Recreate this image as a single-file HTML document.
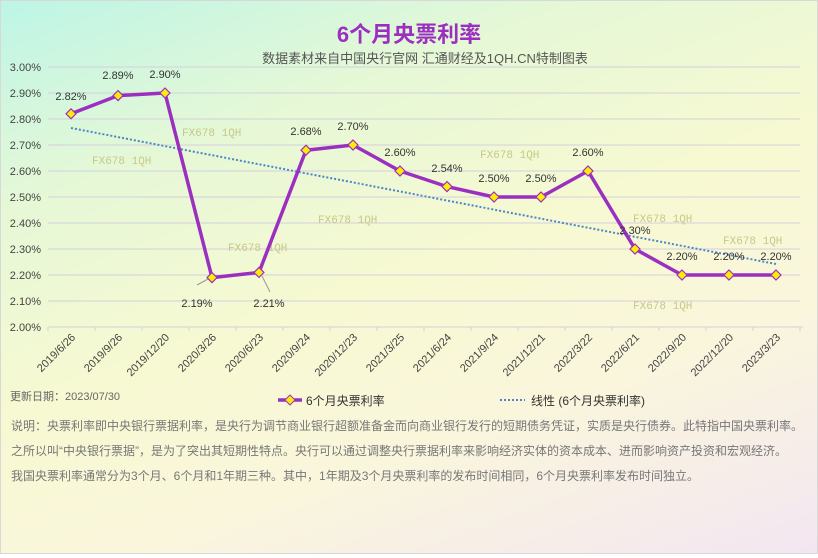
<!DOCTYPE html>
<html><head><meta charset="utf-8"><style>
html,body{margin:0;padding:0;}
body{width:818px;height:558px;overflow:hidden;font-family:"Liberation Sans","Noto Sans CJK SC",sans-serif;}
#bg{position:absolute;left:0;top:0;width:816px;height:552px;border:1px solid #d8d8d8;
background:linear-gradient(160deg,#bdf5e6 0%,#e6f8d6 25%,#f7f9d2 50%,#faf6dc 70%,#f3e6f2 100%);}
</style></head><body>
<div id="bg"></div>
<svg width="818" height="558" style="position:absolute;left:0;top:0" font-family="Liberation Sans, Noto Sans CJK SC, sans-serif">
<text x="409" y="42" text-anchor="middle" font-size="22" font-weight="bold" fill="#9b30c0">6个月央票利率</text>
<text x="425" y="63" text-anchor="middle" font-size="13" fill="#555">数据素材来自中国央行官网 汇通财经及1QH.CN特制图表</text>
<g stroke="#d4d0dc" stroke-width="1">
<line x1="48" x2="800" y1="67" y2="67"/><line x1="48" x2="800" y1="93" y2="93"/><line x1="48" x2="800" y1="119" y2="119"/><line x1="48" x2="800" y1="145" y2="145"/><line x1="48" x2="800" y1="171" y2="171"/><line x1="48" x2="800" y1="197" y2="197"/><line x1="48" x2="800" y1="223" y2="223"/><line x1="48" x2="800" y1="249" y2="249"/><line x1="48" x2="800" y1="275" y2="275"/><line x1="48" x2="800" y1="301" y2="301"/><line x1="48" x2="803" y1="327" y2="327"/>
</g>
<g stroke="#d4d0dc"><line x1="48" x2="48" y1="327" y2="331"/><line x1="95" x2="95" y1="327" y2="331"/><line x1="142" x2="142" y1="327" y2="331"/><line x1="189" x2="189" y1="327" y2="331"/><line x1="236" x2="236" y1="327" y2="331"/><line x1="283" x2="283" y1="327" y2="331"/><line x1="330" x2="330" y1="327" y2="331"/><line x1="377" x2="377" y1="327" y2="331"/><line x1="424" x2="424" y1="327" y2="331"/><line x1="471" x2="471" y1="327" y2="331"/><line x1="518" x2="518" y1="327" y2="331"/><line x1="565" x2="565" y1="327" y2="331"/><line x1="612" x2="612" y1="327" y2="331"/><line x1="659" x2="659" y1="327" y2="331"/><line x1="706" x2="706" y1="327" y2="331"/><line x1="753" x2="753" y1="327" y2="331"/><line x1="800" x2="800" y1="327" y2="331"/></g>
<g font-size="11" fill="#444" text-anchor="end">
<text x="41" y="71">3.00%</text><text x="41" y="97">2.90%</text><text x="41" y="123">2.80%</text><text x="41" y="149">2.70%</text><text x="41" y="175">2.60%</text><text x="41" y="201">2.50%</text><text x="41" y="227">2.40%</text><text x="41" y="253">2.30%</text><text x="41" y="279">2.20%</text><text x="41" y="305">2.10%</text><text x="41" y="331">2.00%</text>
</g>
<g font-size="11" fill="#444" text-anchor="end">
<text transform="translate(76,338) rotate(-45)">2019/6/26</text>
<text transform="translate(123,338) rotate(-45)">2019/9/26</text>
<text transform="translate(170,338) rotate(-45)">2019/12/20</text>
<text transform="translate(217,338) rotate(-45)">2020/3/26</text>
<text transform="translate(264,338) rotate(-45)">2020/6/23</text>
<text transform="translate(311,338) rotate(-45)">2020/9/24</text>
<text transform="translate(358,338) rotate(-45)">2020/12/23</text>
<text transform="translate(405,338) rotate(-45)">2021/3/25</text>
<text transform="translate(452,338) rotate(-45)">2021/6/24</text>
<text transform="translate(499,338) rotate(-45)">2021/9/24</text>
<text transform="translate(546,338) rotate(-45)">2021/12/21</text>
<text transform="translate(593,338) rotate(-45)">2022/3/22</text>
<text transform="translate(640,338) rotate(-45)">2022/6/21</text>
<text transform="translate(687,338) rotate(-45)">2022/9/20</text>
<text transform="translate(734,338) rotate(-45)">2022/12/20</text>
<text transform="translate(781,338) rotate(-45)">2023/3/23</text>
</g>
<g font-family="Liberation Mono, monospace" font-size="11" fill="#c8c88a">
<text x="182" y="136">FX678  1QH</text><text x="92" y="164">FX678 1QH</text><text x="228" y="251">FX678  1QH</text><text x="318" y="223">FX678  1QH</text><text x="480" y="158">FX678  1QH</text><text x="633" y="222">FX678  1QH</text><text x="723" y="244">FX678  1QH</text><text x="633" y="309">FX678  1QH</text>
</g>
<line x1="71" y1="128" x2="776" y2="264" stroke="#4a86c8" stroke-width="2" stroke-dasharray="2,2"/>
<polyline fill="none" stroke="#9b30c0" stroke-width="3.5" stroke-linejoin="round" points="71,113.8 118,95.6 165,93 212,277.6 259,272.4 306,150.2 353,145 400,171 447,186.6 494,197 541,197 588,171 635,249 682,275 729,275 776,275"/>
<g fill="#ffee00" stroke="#9b30c0" stroke-width="1.2">
<path d="M71,108.8l5,5l-5,5l-5,-5z"/><path d="M118,90.6l5,5l-5,5l-5,-5z"/><path d="M165,88l5,5l-5,5l-5,-5z"/><path d="M212,272.6l5,5l-5,5l-5,-5z"/><path d="M259,267.4l5,5l-5,5l-5,-5z"/><path d="M306,145.2l5,5l-5,5l-5,-5z"/><path d="M353,140l5,5l-5,5l-5,-5z"/><path d="M400,166l5,5l-5,5l-5,-5z"/><path d="M447,181.6l5,5l-5,5l-5,-5z"/><path d="M494,192l5,5l-5,5l-5,-5z"/><path d="M541,192l5,5l-5,5l-5,-5z"/><path d="M588,166l5,5l-5,5l-5,-5z"/><path d="M635,244l5,5l-5,5l-5,-5z"/><path d="M682,270l5,5l-5,5l-5,-5z"/><path d="M729,270l5,5l-5,5l-5,-5z"/><path d="M776,270l5,5l-5,5l-5,-5z"/>
</g>
<g stroke="#999" stroke-width="1"><line x1="197" y1="285" x2="208" y2="279"/><line x1="262" y1="276" x2="270" y2="292"/></g>
<g font-size="11" fill="#333" text-anchor="middle">
<text x="71" y="100">2.82%</text><text x="118" y="79">2.89%</text><text x="165" y="78">2.90%</text><text x="197" y="307">2.19%</text><text x="269" y="307">2.21%</text><text x="306" y="135">2.68%</text><text x="353" y="130">2.70%</text><text x="400" y="156">2.60%</text><text x="447" y="172">2.54%</text><text x="494" y="182">2.50%</text><text x="541" y="182">2.50%</text><text x="588" y="156">2.60%</text><text x="635" y="234">2.30%</text><text x="682" y="260">2.20%</text><text x="729" y="260">2.20%</text><text x="776" y="260">2.20%</text>
</g>
<text x="10" y="400" font-size="11" fill="#666">更新日期：2023/07/30</text>
<line x1="278" y1="400" x2="302" y2="400" stroke="#9b30c0" stroke-width="3.5"/>
<path d="M290,395l5,5l-5,5l-5,-5z" fill="#ffee00" stroke="#9b30c0"/>
<text x="306" y="405" font-size="12" fill="#333">6个月央票利率</text>
<line x1="500" y1="400" x2="525" y2="400" stroke="#4a86c8" stroke-width="2" stroke-dasharray="2,2"/>
<text x="531" y="405" font-size="12" fill="#333">线性 (6个月央票利率)</text>
<g font-size="12" fill="#777">
<text x="11" y="430">说明：央票利率即中央银行票据利率，是央行为调节商业银行超额准备金而向商业银行发行的短期债务凭证，实质是央行债券。此特指中国央票利率。</text>
<text x="11" y="455">之所以叫“中央银行票据”，是为了突出其短期性特点。央行可以通过调整央行票据利率来影响经济实体的资本成本、进而影响资产投资和宏观经济。</text>
<text x="11" y="480">我国央票利率通常分为3个月、6个月和1年期三种。其中，1年期及3个月央票利率的发布时间相同，6个月央票利率发布时间独立。</text>
</g>
</svg>
</body></html>
